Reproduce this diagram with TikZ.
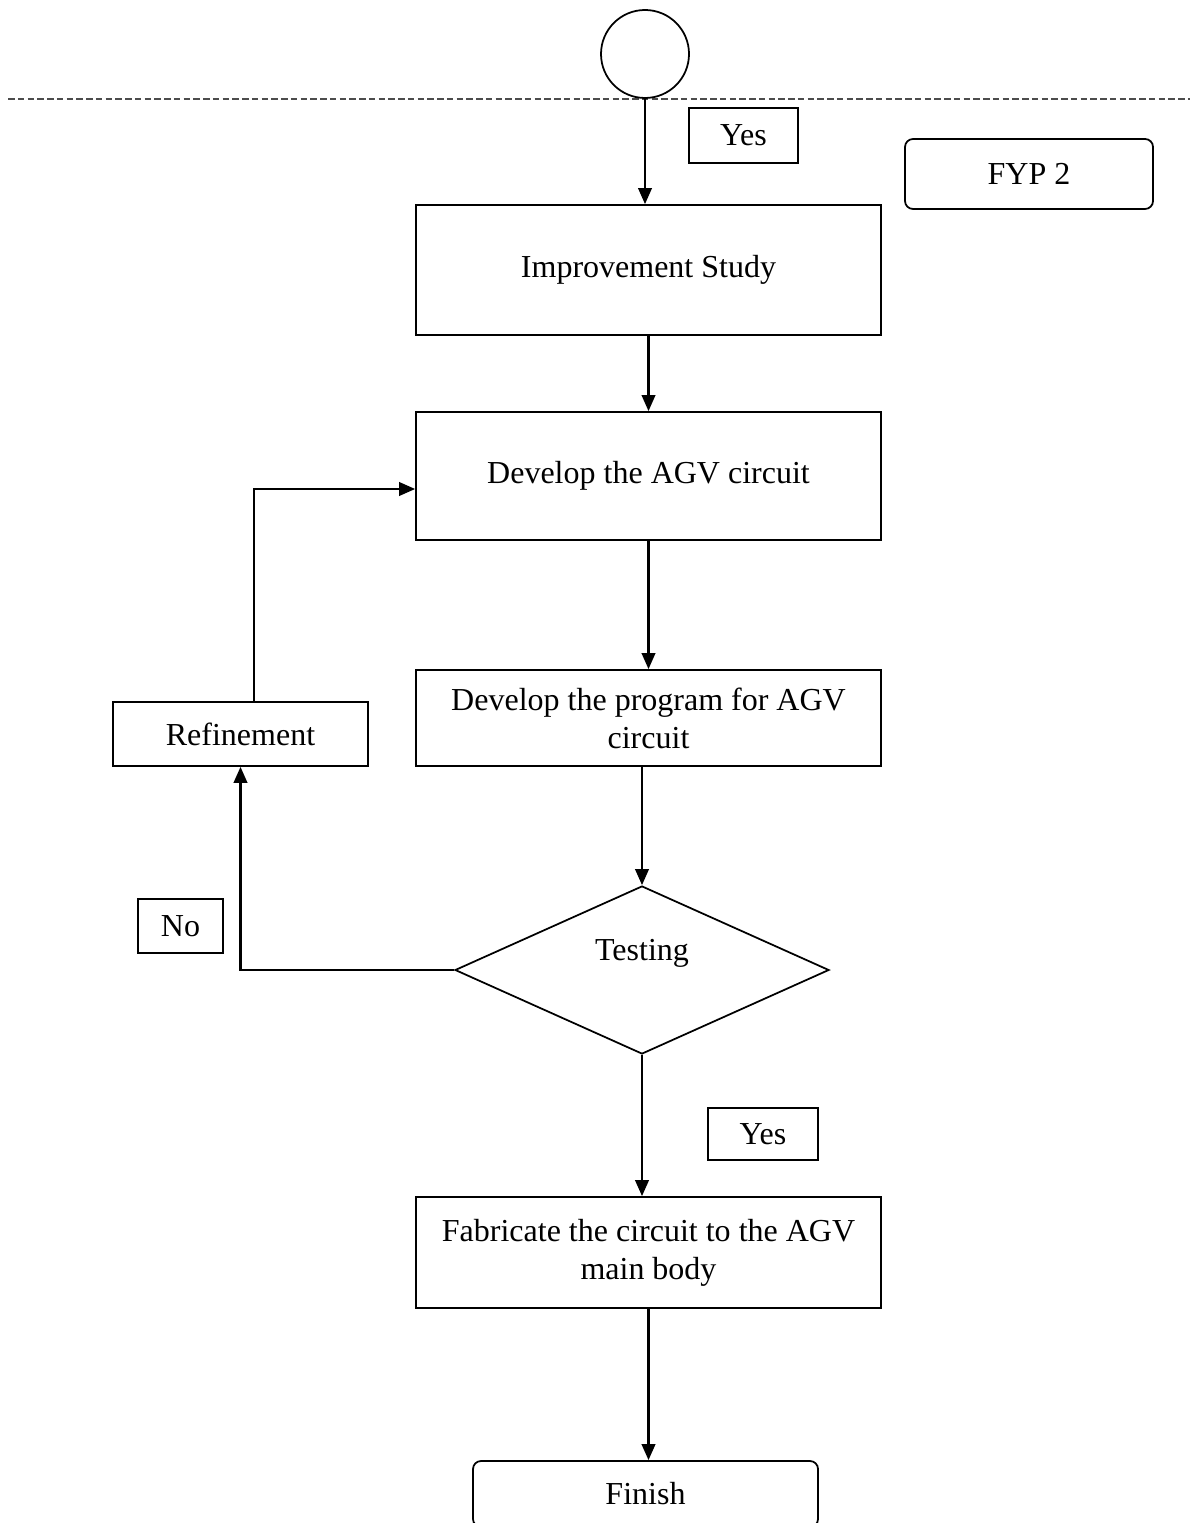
\documentclass[tikz,border=0pt]{standalone}
\usepackage{fontspec}
\setmainfont{Liberation Serif}
\usetikzlibrary{arrows.meta,shapes.geometric}
\begin{document}
\begin{tikzpicture}[x=0.4pt,y=-0.4pt,
  every node/.style={font=\fontsize{12.8}{15.2}\selectfont},
  box/.style={draw,line width=0.7pt,inner sep=0pt,align=center},
  flowbox/.style={box,minimum width=186pt},
  rbox/.style={box,rounded corners=3.2pt},
  conn/.style={line width=0.9pt,-{Triangle[length=6.4pt,width=5.4pt]}},
  plain/.style={line width=0.9pt}]
\useasboundingbox (0,0) rectangle (1197,1523);
\clip (0,0) rectangle (1197,1523);
% divider
\coordinate (dl) at (8,99);
\coordinate (dr) at (1190,99);
\draw[gray!60!black,line width=0.5pt,dash pattern=on 2.6pt off 1.3pt] (dl) -- (dr);
% nodes
\node[draw,circle,line width=0.7pt,minimum size=35.2pt,inner sep=0pt] (circ) at (645,54) {};
\node[box,minimum width=43.6pt,minimum height=22pt] (yes1) at (743.5,135.5) {Yes};
\node[rbox,minimum width=99.2pt,minimum height=28pt] (fyp) at (1029,174) {FYP 2};
\node[flowbox,minimum height=52pt] (imp) at (648.5,270) {Improvement Study};
\node[flowbox,minimum height=51.2pt] (dev) at (648.5,476) {Develop the AGV circuit};
\node[flowbox,minimum height=38.4pt] (prog) at (648.5,718) {Develop the program for AGV\\circuit};
\node[box,minimum width=102pt,minimum height=25.6pt] (ref) at (240.5,734) {Refinement};
\node[draw,diamond,line width=0.7pt,inner sep=0pt,minimum width=149.6pt,minimum height=67.2pt] (test) at (642,970) {};
\node (testtxt) at (642,953) {Testing};
\node[box,minimum width=34pt,minimum height=21.6pt] (no) at (180.5,926) {No};
\node[box,minimum width=44pt,minimum height=20.8pt] (yes2) at (763,1134) {Yes};
\node[flowbox,minimum height=44.4pt] (fab) at (648.5,1252.5) {Fabricate the circuit to the AGV\\main body};
\node[rbox,minimum width=138pt,minimum height=26.4pt] (fin) at (645.5,1494) {Finish};
% connectors
\draw[conn] (circ.south) -- (circ.south |- imp.north);
\draw[conn] (imp.south) -- (dev.north);
\draw[conn] (dev.south) -- (prog.north);
\draw[conn] (test.north |- prog.south) -- (test.north);
\draw[conn] ([xshift=5.4pt]ref.north) |- ([yshift=-5.2pt]dev.west);
\draw[conn] (test.west) -| (ref.south);
\draw[conn] (test.south) -- (test.south |- fab.north);
\draw[conn] (fab.south) -- (fab.south |- fin.north);
\end{tikzpicture}
\end{document}
